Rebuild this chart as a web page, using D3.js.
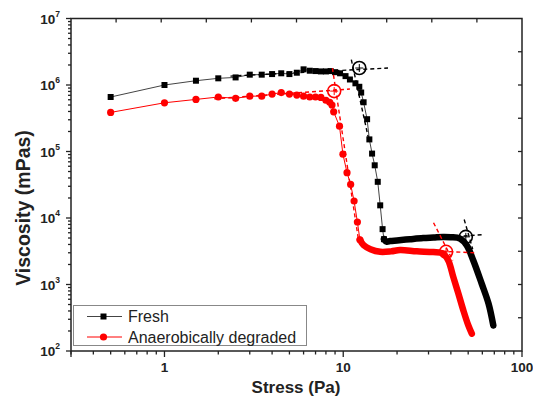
<!DOCTYPE html>
<html><head><meta charset="utf-8">
<script src="https://cdn.jsdelivr.net/npm/d3@7"></script>
<style>body{margin:0;background:#fff}svg{display:block}</style>
</head><body>
<svg id="c" width="533" height="398"></svg>
<script>
// ---- data ----
const freshStress = [0.5,1,1.5,2,2.5,3,3.5,4,4.5,5,5.5,6,6.5,7,7.5,8,8.5,9.0,9.6,10.3,10.9,11.7,12.3,12.6,13.0,13.6,14.0,14.5,15.0,15.6,16.1,16.6,16.9];
const freshVisc   = [6.6e5,1.0e6,1.16e6,1.26e6,1.3e6,1.43e6,1.43e6,1.46e6,1.5e6,1.46e6,1.53e6,1.72e6,1.64e6,1.62e6,1.6e6,1.6e6,1.62e6,1.56e6,1.5e6,1.36e6,1.21e6,1.06e6,9.4e5,7.7e5,5.5e5,3.06e5,1.52e5,9.3e4,6.2e4,3.5e4,1.55e4,6.8e3,4.8e3];
const freshTailStress = [16.9,17.5,18.3,20,23.6,28,32,36.2,40,45,49,53.4,59.5,65,69.1];
const freshTailVisc   = [4.8e3,4.4e3,4.5e3,4.6e3,4.8e3,5.0e3,5.1e3,5.2e3,5.15e3,4.9e3,3.9e3,2.3e3,1.03e3,514,242];

const degStress = [0.5,1,1.5,2,2.5,3,3.5,4,4.5,5,5.5,6,6.5,7,7.5,8,8.4,8.65,8.84,9.53,9.96,10.5,11.0,11.5,12.0,12.4];
const degVisc   = [3.87e5,5.4e5,6.07e5,6.6e5,6.3e5,6.8e5,6.8e5,7.3e5,7.7e5,7.3e5,7.05e5,6.8e5,6.6e5,6.6e5,6.5e5,5.9e5,5.5e5,5.0e5,3.95e5,2.4e5,9.1e4,4.8e4,3.2e4,1.8e4,8.7e3,4.7e3];
const degTailStress = [12.4,13.0,14.2,16.1,18.5,20.8,25.8,31.9,36.3,38.7,41.3,44.1,47.0,50.1,52.4];
const degTailVisc   = [4.7e3,3.9e3,3.4e3,3.1e3,3.15e3,3.3e3,3.15e3,3.07e3,2.9e3,2.3e3,1.29e3,726,407,242,182];

// tangent lines [x1,y1,x2,y2] in data units, and yield-point circles [x,y]
const tangentsBlack = [[2.34,1.36e6,17.8,1.8e6],[11.1,2.4e6,13.9,1.5e5],[36,5.1e3,60,5.6e3],[47.5,9.5e3,53,3.4e3]];
const tangentsRed   = [[1.9,6.2e5,10.9,8.7e5],[8.7,1.8e6,12.2,4.5e3],[25,3.3e3,54,3.0e3],[32,8.5e3,41,2.3e3]];
const yieldBlack = [[12.3,1.8e6],[48.5,5.2e3]];
const yieldRed   = [[8.9,8.1e5],[37.6,3.1e3]];

const xTickVals = [1,10,100];
const yTickExps = [2,3,4,5,6,7];
const legendLabels = ["Fresh","Anaerobically degraded"];

// ---- layout ----
const L=71,R=522,T=18.5,B=351;
const svg=d3.select("#c");
const x=d3.scaleLog().domain([0.3,100]).range([L,R]);
const y=d3.scaleLog().domain([100,1e7]).range([B,T]);
const font="'Liberation Sans', Arial, sans-serif";

// minor ticks
const xMinor=[];
[0.1,1,10].forEach(d=>{for(let k=2;k<=9;k++){const v=d*k;if(v>=0.3&&v<=100&&!xTickVals.includes(v))xMinor.push(v);}});
const yMinor=[];
[100,1e3,1e4,1e5,1e6].forEach(d=>{for(let k=2;k<=9;k++)yMinor.push(d*k);});

const ax=svg.append("g").attr("stroke","#222").attr("stroke-width",1.3);
xTickVals.forEach(v=>ax.append("line").attr("x1",x(v)).attr("x2",x(v)).attr("y1",B).attr("y2",B+6));
xMinor.forEach(v=>ax.append("line").attr("x1",x(v)).attr("x2",x(v)).attr("y1",B).attr("y2",B+3.5));
ax.append("line").attr("x1",L).attr("x2",L).attr("y1",B).attr("y2",B+6);
yTickExps.forEach(e=>ax.append("line").attr("x1",L-5).attr("x2",L).attr("y1",y(Math.pow(10,e))).attr("y2",y(Math.pow(10,e))));
yMinor.forEach(v=>ax.append("line").attr("x1",L-3).attr("x2",L).attr("y1",y(v)).attr("y2",y(v)));
d3.range(1,10).forEach(i=>{const px=L+(R-L)*i/10;ax.append("line").attr("x1",px).attr("x2",px).attr("y1",T).attr("y2",T+4);});
d3.range(1,10).forEach(i=>{const py=T+(B-T)*i/10;ax.append("line").attr("x1",R-4).attr("x2",R).attr("y1",py).attr("y2",py);});
svg.append("rect").attr("x",L).attr("y",T).attr("width",R-L).attr("height",B-T)
  .attr("fill","none").attr("stroke","#222").attr("stroke-width",1.5);

// tick labels
xTickVals.forEach(v=>svg.append("text").attr("x",x(v)).attr("y",B+21).attr("text-anchor","middle")
  .attr("font-family",font).attr("font-weight","bold").attr("font-size",13.5).attr("fill","#222").text(v));
yTickExps.forEach(e=>{
  const t=svg.append("text").attr("x",L-11).attr("y",y(Math.pow(10,e))+5).attr("text-anchor","end")
    .attr("font-family",font).attr("font-weight","bold").attr("font-size",13.5).attr("fill","#222");
  t.append("tspan").text("10");
  t.append("tspan").attr("dy",-7).attr("font-size",8.5).text(e);
});
// axis titles
svg.append("text").attr("x",296).attr("y",393).attr("text-anchor","middle")
  .attr("font-family",font).attr("font-weight","bold").attr("font-size",17).attr("fill","#222").text("Stress (Pa)");
svg.append("text").attr("transform",`translate(30,208) rotate(-90)`).attr("text-anchor","middle")
  .attr("font-family",font).attr("font-weight","bold").attr("font-size",19.5).attr("fill","#222").text("Viscosity (mPas)");

const line=d3.line().x(d=>x(d[0])).y(d=>y(d[1]));
const curve=d3.line().x(d=>x(d[0])).y(d=>y(d[1])).curve(d3.curveCatmullRom);
const zip=(a,b)=>a.map((v,i)=>[v,b[i]]);
const fresh=zip(freshStress,freshVisc), freshTail=zip(freshTailStress,freshTailVisc);
const deg=zip(degStress,degVisc), degTail=zip(degTailStress,degTailVisc);

svg.append("path").attr("d",line(fresh)).attr("fill","none").attr("stroke","#444").attr("stroke-width",1);
svg.append("path").attr("d",line(deg)).attr("fill","none").attr("stroke","#f00").attr("stroke-width",1);
svg.append("path").attr("d",curve(freshTail))
  .attr("fill","none").attr("stroke","#000").attr("stroke-width",6.5).attr("stroke-linecap","round").attr("stroke-linejoin","round");
svg.append("path").attr("d",curve(degTail))
  .attr("fill","none").attr("stroke","#f00").attr("stroke-width",6.5).attr("stroke-linecap","round").attr("stroke-linejoin","round");

svg.append("g").selectAll("rect").data(fresh).join("rect")
  .attr("x",d=>x(d[0])-3).attr("y",d=>y(d[1])-3).attr("width",6).attr("height",6).attr("fill","#000");
svg.append("g").selectAll("circle").data(deg).join("circle")
  .attr("cx",d=>x(d[0])).attr("cy",d=>y(d[1])).attr("r",3.6).attr("fill","#f00");

function drawTangents(arr,col){
  arr.forEach(t=>svg.append("line").attr("x1",x(t[0])).attr("y1",y(t[1])).attr("x2",x(t[2])).attr("y2",y(t[3]))
    .attr("stroke",col).attr("stroke-width",1.4).attr("stroke-dasharray","4,3"));
}
drawTangents(tangentsBlack,"#000");
drawTangents(tangentsRed,"#f00");
function drawYield(arr,col){
  arr.forEach(p=>{
    const cx=x(p[0]),cy=y(p[1]);
    svg.append("circle").attr("cx",cx).attr("cy",cy).attr("r",6.5).attr("fill","none").attr("stroke",col).attr("stroke-width",1.6);
    svg.append("line").attr("x1",cx-4).attr("x2",cx+4).attr("y1",cy).attr("y2",cy).attr("stroke",col).attr("stroke-width",1);
    svg.append("line").attr("x1",cx).attr("x2",cx).attr("y1",cy-4).attr("y2",cy+4).attr("stroke",col).attr("stroke-width",1);
  });
}
drawYield(yieldBlack,"#000");
drawYield(yieldRed,"#f00");

// legend
const lg=svg.append("g");
lg.append("rect").attr("x",73.5).attr("y",305.5).attr("width",233).attr("height",40)
  .attr("fill","#fff").attr("stroke","#888").attr("stroke-width",1);
const lgCols=["#444","#f00"], lgRows=[316.5,337];
legendLabels.forEach((lab,i)=>{
  const yy=lgRows[i];
  lg.append("line").attr("x1",87).attr("x2",122).attr("y1",yy).attr("y2",yy).attr("stroke",lgCols[i]).attr("stroke-width",1);
  if(i===0) lg.append("rect").attr("x",100.5).attr("y",yy-3).attr("width",6).attr("height",6).attr("fill","#000");
  else lg.append("circle").attr("cx",103.5).attr("cy",yy).attr("r",3.6).attr("fill","#f00");
  lg.append("text").attr("x",128).attr("y",yy+5.5).attr("font-family",font).attr("font-size",16).attr("fill","#222").text(lab);
});
</script>
</body></html>
